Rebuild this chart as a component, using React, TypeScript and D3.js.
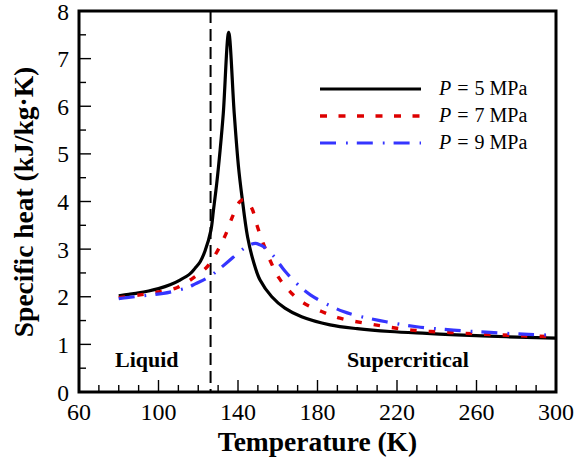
import React from "react";
import * as d3 from "d3";

const W = 579;
const H = 463;

// Series: [temperature K, specific heat kJ/kg·K]
const p5: [number, number][] = [
  [80, 2.02], [85, 2.05], [90, 2.08], [95, 2.12], [100, 2.17], [105.8, 2.25], [110.8, 2.35],
  [115.8, 2.48], [118.4, 2.6], [120.9, 2.73], [123.4, 2.96], [126.4, 3.4], [127.6, 3.8],
  [129.3, 4.38], [131, 5.08], [132.6, 5.85], [135.3, 7.55], [138.1, 5.85], [140.2, 4.75],
  [142, 4.1], [144.8, 3.26], [147.7, 2.75], [151.1, 2.35], [157, 2.0],
  [163.6, 1.76], [172, 1.58], [186.3, 1.41], [200, 1.33], [216.5, 1.27], [235, 1.23],
  [250, 1.2], [275, 1.16], [300, 1.13],
];

const p7: [number, number][] = [
  [80, 1.98], [90.7, 2.04], [100, 2.1], [109.2, 2.19], [118, 2.41], [124.5, 2.63],
  [129.9, 2.98], [133.7, 3.3], [137.2, 3.68], [141, 4.0], [143.3, 4.04], [146.9, 3.86],
  [149.7, 3.48], [152.7, 3.12], [156.4, 2.74], [160.7, 2.39], [166.8, 2.08], [173, 1.87],
  [182.1, 1.69], [191.3, 1.55], [209, 1.41], [227.4, 1.3], [246.7, 1.25], [265.1, 1.21],
  [283.5, 1.18], [300, 1.16],
];

const p9: [number, number][] = [
  [80, 1.96], [84, 1.98], [92, 2.02], [102.4, 2.07], [110, 2.14], [115, 2.2], [118.5, 2.27],
  [126, 2.43], [130, 2.56], [135.1, 2.74], [142.5, 3.0], [146, 3.09], [148.8, 3.12],
  [151, 3.09], [153.6, 3.03], [157.8, 2.86], [163.6, 2.54], [169.5, 2.28], [176.4, 2.04],
  [193, 1.69], [211.4, 1.5], [229.9, 1.37], [248.3, 1.3], [266.8, 1.25], [286.1, 1.21],
  [300, 1.19],
];

const seriesLabels = ["5", "7", "9"];
const xMajorTicks = [60, 100, 140, 180, 220, 260, 300];
const yMajorTicks = [0, 1, 2, 3, 4, 5, 6, 7, 8];
const criticalT = 126.2;

const serif = "'Liberation Serif', 'Times New Roman', serif";

export default function App() {
  const left = 79, right = 556, top = 11, bottom = 392;
  const x = d3.scaleLinear().domain([60, 300]).range([left, right]);
  const y = d3.scaleLinear().domain([0, 8]).range([bottom, top]);

  const line = d3
    .line<[number, number]>()
    .x((d) => x(d[0]))
    .y((d) => y(d[1]))
    .curve(d3.curveCatmullRom.alpha(0.5));

  const xMinor = d3.range(60, 301, 10);
  const yMinor = d3.range(0, 8.01, 0.5);

  const styles = [
    { stroke: "#000000", dash: undefined as string | undefined, width: 3.2 },
    { stroke: "#dd0000", dash: "6.5 12", width: 3.4 },
    { stroke: "#3535ff", dash: "16 10 1.8 9", width: 3.2 },
  ];
  const data = [p5, p7, p9];

  const legendY = [89, 116, 143];

  return (
    <svg
      width={W}
      height={H}
      style={{ position: "absolute", left: 0, top: 0, background: "#fff" }}
      fontFamily={serif}
    >
      <rect x={0} y={0} width={W} height={H} fill="#fff" />

      {/* critical temperature line */}
      <line
        x1={x(criticalT)}
        x2={x(criticalT)}
        y1={top}
        y2={bottom}
        stroke="#000"
        strokeWidth={2}
        strokeDasharray="12 6"
      />

      {/* ticks */}
      {xMinor.map((v) => (
        <line key={"xm" + v} x1={x(v)} x2={x(v)} y1={bottom} y2={bottom - ((v - 60) % 40 === 0 ? 12 : 7)} stroke="#000" strokeWidth={1.4} />
      ))}
      {yMinor.map((v) => (
        <line key={"ym" + v} x1={left} x2={left + (Number.isInteger(v) ? 12 : 7)} y1={y(v)} y2={y(v)} stroke="#000" strokeWidth={1.4} />
      ))}

      {/* series */}
      {data.map((d, i) => (
        <path
          key={i}
          d={line(d) || ""}
          fill="none"
          stroke={styles[i].stroke}
          strokeWidth={styles[i].width}
          strokeDasharray={styles[i].dash}
          strokeLinejoin="round"
        />
      ))}

      {/* frame */}
      <rect x={left} y={top} width={right - left} height={bottom - top} fill="none" stroke="#000" strokeWidth={3} />

      {/* tick labels */}
      {xMajorTicks.map((v) => (
        <text key={"xl" + v} x={x(v)} y={420} fontSize={24} textAnchor="middle">
          {v}
        </text>
      ))}
      {yMajorTicks.map((v) => (
        <text key={"yl" + v} x={69} y={y(v) + 8.5} fontSize={23.5} textAnchor="end">
          {v}
        </text>
      ))}

      {/* axis titles */}
      <text x={(left + right) / 2} y={451} fontSize={27.5} fontWeight="bold" textAnchor="middle">
        Temperature (K)
      </text>
      <text
        transform={`translate(33,202) rotate(-90)`}
        fontSize={27.5}
        fontWeight="bold"
        textAnchor="middle"
      >
        Specific heat (kJ/kg·K)
      </text>

      {/* region labels */}
      <text x={115} y={367} fontSize={22} fontWeight="bold">Liquid</text>
      <text x={347} y={367} fontSize={22} fontWeight="bold">Supercritical</text>

      {/* legend */}
      {seriesLabels.map((s, i) => (
        <g key={"lg" + i}>
          <line
            x1={320}
            x2={421}
            y1={legendY[i]}
            y2={legendY[i]}
            stroke={styles[i].stroke}
            strokeWidth={styles[i].width}
            strokeDasharray={i === 1 ? "7 11.5" : i === 2 ? "16 10 1.8 9" : undefined}
          />
          <text x={439} y={legendY[i] + 6} fontSize={20}>
            <tspan fontStyle="italic">P</tspan>
            <tspan dx={6}>=</tspan>
            <tspan dx={6}>{s} MPa</tspan>
          </text>
        </g>
      ))}
    </svg>
  );
}
